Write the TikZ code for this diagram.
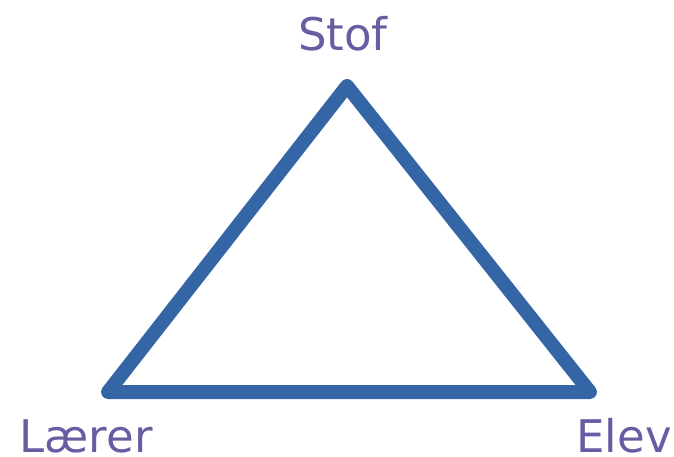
\documentclass[tikz,border=0pt]{standalone}
\usepackage{fontspec}
\setmainfont{DejaVu Sans}
\definecolor{triblue}{HTML}{3466A6}
\definecolor{labpurple}{HTML}{6A5CA2}
\begin{document}
\begin{tikzpicture}[x=1pt,y=-1pt,
  lab/.style={text=labpurple,font=\fontsize{45}{45}\selectfont,inner sep=0pt,anchor=base},
  tri/.style={draw=triblue,line width=14pt,line join=round,line cap=round}]
\useasboundingbox (0,0) rectangle (674,456);
\coordinate (top) at (347,86);
\coordinate (bl) at (108,392);
\coordinate (br) at (590,392);
\draw[tri] (top) -- (br) -- (bl) -- cycle;
\node[lab] (stof) at (343,50) {Stof};
\node[lab] (laerer) at (86,452) {Lærer};
\node[lab] (elev) at (624,452) {Elev};
\end{tikzpicture}
\end{document}
